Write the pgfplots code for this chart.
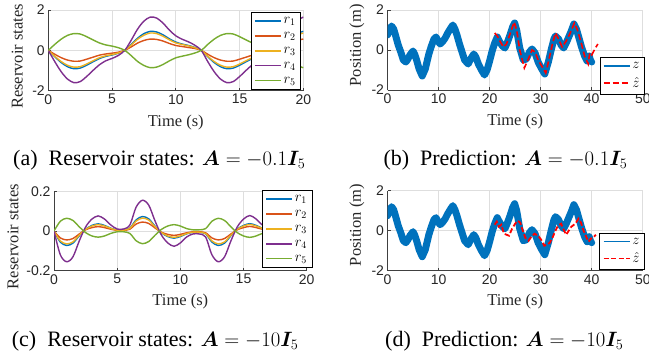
\documentclass[border=0pt]{standalone}
\usepackage{fontspec}
\setmainfont{Liberation Serif}
\setsansfont{Liberation Sans}
\usepackage{bm}
\usepackage{pgfplots}
\usepackage{pgfplotstable}
\pgfplotsset{compat=1.18}
\definecolor{mblue}{rgb}{0,0.447,0.741}
\definecolor{morange}{rgb}{0.85,0.325,0.098}
\definecolor{myellow}{rgb}{0.929,0.694,0.125}
\definecolor{mpurple}{rgb}{0.494,0.184,0.556}
\definecolor{mgreen}{rgb}{0.466,0.674,0.188}
\definecolor{axgray}{rgb}{0.25,0.25,0.25}

\pgfplotstableread{
t r1 r2 r3 r4 r5
0 0 0 0 0 0
0.5 -0.31 -0.19 -0.29 -0.55 0.29
1 -0.60 -0.36 -0.55 -1.05 0.55
1.5 -0.81 -0.48 -0.74 -1.42 0.74
2 -0.91 -0.54 -0.83 -1.6 0.83
2.5 -0.88 -0.53 -0.81 -1.55 0.81
3 -0.74 -0.44 -0.68 -1.3 0.68
3.5 -0.57 -0.34 -0.52 -1.0 0.52
4 -0.41 -0.24 -0.37 -0.72 0.37
4.5 -0.30 -0.18 -0.27 -0.52 0.27
5 -0.23 -0.14 -0.21 -0.4 0.21
5.5 -0.14 -0.09 -0.13 -0.25 0.13
6 0 0 0 0 0
6.5 0.29 0.17 0.26 0.5 -0.26
7 0.60 0.36 0.55 1.05 -0.55
7.5 0.83 0.49 0.75 1.45 -0.75
8 0.94 0.56 0.86 1.65 -0.86
8.5 0.91 0.54 0.83 1.6 -0.83
9 0.77 0.46 0.70 1.35 -0.70
9.5 0.57 0.34 0.52 1.0 -0.52
10 0.41 0.24 0.37 0.72 -0.37
10.5 0.31 0.19 0.29 0.55 -0.29
11 0.24 0.14 0.22 0.42 -0.22
11.5 0.14 0.09 0.13 0.25 -0.13
12 0 0 0 0 0
12.5 -0.31 -0.19 -0.29 -0.55 0.29
13 -0.60 -0.36 -0.55 -1.05 0.55
13.5 -0.81 -0.48 -0.74 -1.42 0.74
14 -0.91 -0.54 -0.83 -1.6 0.83
14.5 -0.88 -0.53 -0.81 -1.55 0.81
15 -0.74 -0.44 -0.68 -1.3 0.68
15.5 -0.57 -0.34 -0.52 -1.0 0.52
16 -0.41 -0.24 -0.37 -0.72 0.37
16.5 -0.30 -0.18 -0.27 -0.52 0.27
17 -0.23 -0.14 -0.21 -0.4 0.21
17.5 -0.14 -0.09 -0.13 -0.25 0.13
18 0 0 0 0 0
18.5 0.29 0.17 0.26 0.5 -0.26
19 0.60 0.36 0.55 1.05 -0.55
19.5 0.83 0.49 0.75 1.45 -0.75
20 0.94 0.56 0.86 1.65 -0.86
}\tableA

\pgfplotstableread{
t r1 r2 r3 r4 r5
0 0 0 0 0 0
0.5 -0.056 -0.035 -0.050 -0.12 0.049
1 -0.073 -0.045 -0.065 -0.155 0.064
1.5 -0.061 -0.038 -0.055 -0.13 0.053
2 -0.024 -0.015 -0.021 -0.05 0.021
2.5 0.009 0.006 0.008 0.02 -0.008
3 0.028 0.017 0.025 0.06 -0.025
3.5 0.036 0.022 0.032 0.076 -0.031
4 0.028 0.017 0.025 0.06 -0.025
4.5 0.014 0.009 0.013 0.03 -0.012
5 0.005 0.003 0.004 0.01 -0.004
5.5 0.005 0.003 0.004 0.01 -0.004
6 0.014 0.009 0.013 0.03 -0.012
6.5 0.056 0.035 0.050 0.12 -0.049
7 0.073 0.045 0.065 0.155 -0.064
7.5 0.061 0.038 0.055 0.13 -0.053
8 0.024 0.015 0.021 0.05 -0.021
8.5 -0.009 -0.006 -0.008 -0.02 0.008
9 -0.028 -0.017 -0.025 -0.06 0.025
9.5 -0.036 -0.022 -0.032 -0.077 0.032
10 -0.028 -0.017 -0.025 -0.06 0.025
10.5 -0.014 -0.009 -0.013 -0.03 0.012
11 -0.007 -0.004 -0.006 -0.015 0.006
11.5 -0.007 -0.004 -0.006 -0.015 0.006
12 -0.014 -0.009 -0.013 -0.03 0.012
12.5 -0.056 -0.035 -0.050 -0.12 0.049
13 -0.073 -0.045 -0.065 -0.155 0.064
13.5 -0.061 -0.038 -0.055 -0.13 0.053
14 -0.024 -0.015 -0.021 -0.05 0.021
14.5 0.009 0.006 0.008 0.02 -0.008
15 0.028 0.017 0.025 0.06 -0.025
15.5 0.037 0.023 0.033 0.078 -0.032
16 0.028 0.017 0.025 0.06 -0.025
16.5 0.014 0.009 0.013 0.03 -0.012
17 0.009 0.006 0.008 0.02 -0.008
17.5 0.009 0.006 0.008 0.02 -0.008
18 0.014 0.009 0.013 0.03 -0.012
18.5 0.056 0.035 0.050 0.12 -0.049
19 0.073 0.045 0.065 0.155 -0.064
19.5 0.061 0.038 0.055 0.13 -0.053
20 0.024 0.015 0.021 0.05 -0.021
}\tableC

\pgfplotstableread{
t z
0 0.75
0.4 1.0
0.8 1.2
1.2 1.05
1.5 0.8
2.1 0.25
2.6 -0.1
3.1 -0.5
3.6 -0.6
4.0 -0.45
4.4 -0.25
5.0 -0.05
5.3 -0.2
5.7 -0.5
6.2 -0.95
6.8 -1.3
7.4 -0.95
8.1 -0.2
8.6 0.2
9.1 0.55
9.5 0.65
9.9 0.45
10.3 0.3
10.8 0.42
11.3 0.6
11.8 0.85
12.4 1.1
12.8 1.25
13.2 1.05
13.6 0.75
14.1 0.3
14.6 -0.1
15.1 -0.5
15.8 -0.7
16.4 -0.4
16.9 -0.2
17.3 -0.35
17.8 -0.7
18.4 -1.0
19.0 -1.25
19.5 -1.0
20.0 -0.55
20.5 -0.05
21.0 0.35
21.5 0.65
22.0 0.4
22.5 0.2
23.0 0.1
23.5 0.4
24.0 0.75
24.5 1.15
24.9 1.35
25.3 1.0
25.9 0.1
26.6 -0.5
27.2 -0.45
27.8 -0.1
28.3 0.05
28.9 -0.15
29.5 -0.6
30.1 -0.9
30.8 -1.2
31.5 -0.6
32.1 0.05
32.6 0.55
32.9 0.7
33.5 0.55
34.0 0.25
34.5 0.1
35.0 0.35
35.5 0.65
36.0 0.95
36.5 1.3
37.0 1.05
37.5 0.6
38.0 0.15
38.6 -0.3
39.1 -0.55
39.5 -0.3
39.8 -0.55
40.0 -0.6
}\tableZ

\pgfplotstableread{
t zh
21.0 0.85
21.5 0.7
22.0 0.45
22.7 0.15
23.3 0.3
24.0 0.8
24.8 1.4
25.3 1.0
25.9 0.0
26.8 -0.9
27.5 -0.5
28.3 0.0
28.9 -0.1
29.5 -0.5
30.2 -0.8
31.0 -1.15
31.6 -0.5
32.3 0.3
32.9 0.85
33.5 0.55
34.2 0.15
35.0 0.45
35.7 0.8
36.6 1.35
37.2 1.0
38.0 0.3
38.6 -0.3
39.3 -0.7
39.6 -0.15
40.0 -0.25
40.6 0.05
41.2 0.3
}\tableB

\pgfplotstableread{
t zh
21.0 0.3
21.4 0.45
21.8 0.2
22.3 0.3
22.8 -0.15
23.3 -0.2
23.8 -0.25
24.4 0.1
25.0 0.35
25.5 0.5
26.0 0.4
26.5 0.0
27.0 -0.35
27.6 -0.5
28.2 -0.3
28.8 -0.15
29.5 -0.25
30.1 -0.45
30.7 -0.75
31.2 -0.7
31.8 -0.6
32.4 -0.3
32.9 0.0
33.4 0.25
34.0 0.35
34.5 0.05
35.0 -0.2
35.5 0.0
36.0 0.2
36.8 0.35
37.4 0.6
37.9 0.4
38.4 0.0
39.0 -0.35
39.4 -0.55
39.8 -0.4
40.3 -0.35
40.8 -0.2
}\tableD

\newcommand{\labfont}{\fontsize{16.5}{18}\selectfont}
\pgfplotsset{
  mystyle/.style={
    scale only axis,
    axis x line*=bottom, axis y line*=left,
    axis line style={draw=axgray, line width=0.9pt},
    grid=major, grid style={black!13, line width=0.7pt},
    tick align=inside, major tick length=3pt,
    tick style={axgray, line width=0.7pt},
    /pgf/number format/assume math mode=true,
    ticklabel style={font=\fontsize{14}{16}\selectfont\sffamily, text=black!85},
    every axis x label/.style={at={(axis description cs:0.5,-0.39)}, anchor=center, font=\labfont, text=black!85},
    legend style={font=\fontsize{14}{16}\selectfont, row sep=3.2pt, inner ysep=3pt},
    legend image code/.code={\draw[mark repeat=2,mark phase=2] plot coordinates {(0pt,0pt) (13pt,0pt) (26pt,0pt)};},
    legend cell align=left,
  },
  ylab/.style 2 args={every axis y label/.style={at={(axis description cs:#1,#2)}, rotate=90, anchor=center, font=\labfont, text=black!85}},
  statesty/.style={line width=1.4pt, smooth},
}

\begin{document}
\begin{tikzpicture}
\path[use as bounding box] (0pt,0pt) rectangle (649pt,358pt);

% (a)
\begin{axis}[mystyle, at={(48.3pt,267.3pt)}, anchor=south west, width=255pt, height=80.7pt,
  xmin=0, xmax=20, ymin=-2, ymax=2, xtick={0,5,10,15,20}, ytick={-2,0,2}, yticklabels={-2,0,2},
  xlabel={Time (s)}, ylabel={Reservoir states}, ylab={-0.122}{0.425},
  legend style={at={(0.99,0.975)}, anchor=north east}]
\addplot[statesty, color=mblue] table[x=t,y=r1] {\tableA}; \addlegendentry{$r_1$}
\addplot[statesty, color=morange] table[x=t,y=r2] {\tableA}; \addlegendentry{$r_2$}
\addplot[statesty, color=myellow] table[x=t,y=r3] {\tableA}; \addlegendentry{$r_3$}
\addplot[statesty, color=mpurple] table[x=t,y=r4] {\tableA}; \addlegendentry{$r_4$}
\addplot[statesty, color=mgreen] table[x=t,y=r5] {\tableA}; \addlegendentry{$r_5$}
\end{axis}

% (b)
\begin{axis}[mystyle, at={(387.5pt,268pt)}, anchor=south west, width=255.3pt, height=80pt,
  xmin=0, xmax=50, ymin=-2, ymax=2, xtick={0,10,20,30,40,50}, ytick={-2,0,2}, yticklabels={-2,0,2},
  xlabel={Time (s)}, ylabel={Position (m)}, ylab={-0.12}{0.56},
  legend style={at={(1.008,0.41)}, anchor=north east}]
\addplot[color=mblue, line width=7pt, line join=round, line cap=round, legend image post style={line width=1.5pt, line cap=butt}] table[x=t,y=z] {\tableZ}; \addlegendentry{$z$}
\addplot[color=red, line width=1.6pt, dash pattern=on 6pt off 3pt] table[x=t,y=zh] {\tableB}; \addlegendentry{$\hat{z}$}
\end{axis}

% (c)
\begin{axis}[mystyle, at={(54pt,87.3pt)}, anchor=south west, width=252.7pt, height=79.4pt,
  xmin=0, xmax=20, ymin=-0.2, ymax=0.2, xtick={0,5,10,15,20}, ytick={-0.2,0,0.2}, yticklabels={-0.2,0,0.2},
  xlabel={Time (s)}, ylabel={Reservoir states}, ylab={-0.162}{0.43},
  legend style={at={(1.021,1.015)}, anchor=north east}]
\addplot[statesty, color=mblue] table[x=t,y=r1] {\tableC}; \addlegendentry{$r_1$}
\addplot[statesty, color=morange] table[x=t,y=r2] {\tableC}; \addlegendentry{$r_2$}
\addplot[statesty, color=myellow] table[x=t,y=r3] {\tableC}; \addlegendentry{$r_3$}
\addplot[statesty, color=mpurple] table[x=t,y=r4] {\tableC}; \addlegendentry{$r_4$}
\addplot[statesty, color=mgreen] table[x=t,y=r5] {\tableC}; \addlegendentry{$r_5$}
\end{axis}

% (d)
\begin{axis}[mystyle, at={(387.5pt,87.3pt)}, anchor=south west, width=255.3pt, height=80pt,
  xmin=0, xmax=50, ymin=-2, ymax=2, xtick={0,10,20,30,40,50}, ytick={-2,0,2}, yticklabels={-2,0,2},
  xlabel={Time (s)}, ylabel={Position (m)}, ylab={-0.12}{0.57},
  legend style={at={(1.008,0.475)}, anchor=north east}]
\addplot[color=mblue, line width=7pt, line join=round, line cap=round, legend image post style={line width=1.5pt, line cap=butt}] table[x=t,y=z] {\tableZ}; \addlegendentry{$z$}
\addplot[color=red, line width=1.8pt, dash pattern=on 5pt off 2.5pt] table[x=t,y=zh] {\tableD}; \addlegendentry{$\hat{z}$}
\end{axis}

% captions
\node[anchor=base west, font=\fontsize{22}{26}\selectfont, inner sep=0pt] at (13pt,192.3pt) {(a)\ \ Reservoir states: $\bm{A}=-0.1\bm{I}_5$};
\node[anchor=base west, font=\fontsize{22}{26}\selectfont, inner sep=0pt] at (383.3pt,192.3pt) {(b)\ \ Prediction: $\bm{A}=-0.1\bm{I}_5$};
\node[anchor=base west, font=\fontsize{22}{26}\selectfont, inner sep=0pt] at (11.7pt,11.3pt) {(c)\ \ Reservoir states: $\bm{A}=-10\bm{I}_5$};
\node[anchor=base west, font=\fontsize{22}{26}\selectfont, inner sep=0pt] at (385pt,11.3pt) {(d)\ \ Prediction: $\bm{A}=-10\bm{I}_5$};
\end{tikzpicture}
\end{document}
